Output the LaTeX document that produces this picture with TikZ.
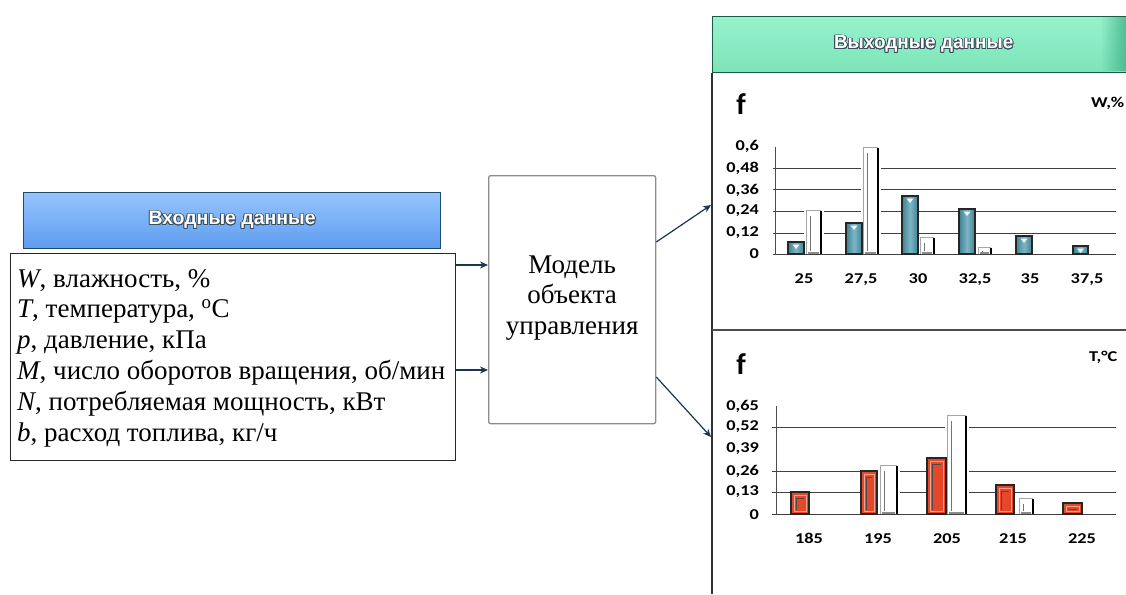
\documentclass[tikz,border=0pt]{standalone}
\usepackage{fontspec}
\setmainfont{Liberation Serif}
\newfontfamily\hdrfont{Liberation Sans}
\newfontfamily\chartfont{Carlito}
\usepackage{contour}
\contourlength{0.8pt}
\usetikzlibrary{arrows.meta}

\definecolor{inTop}{HTML}{95C4FF}
\definecolor{inBot}{HTML}{5E9CEE}
\definecolor{inEdge}{HTML}{1E4A66}
\definecolor{outTop}{HTML}{96F2CC}
\definecolor{outBot}{HTML}{7DE4B8}
\definecolor{outDark}{HTML}{45B489}
\definecolor{outEdge}{HTML}{1C5A48}
\definecolor{glow}{HTML}{3A4E5E}
\definecolor{arrowblue}{HTML}{1B3550}
\definecolor{tealA}{HTML}{3F8292}
\definecolor{tealB}{HTML}{7DB6C4}
\definecolor{redA}{HTML}{E4472A}
\definecolor{redIn}{HTML}{F7A48F}

% stretched bold chart lettering
\newcommand{\lbl}[1]{\scalebox{1.22}[1]{#1}}

\tikzset{
  inhdr/.style={draw=inEdge, line width=1.2pt, top color=inTop, bottom color=inBot,
    font=\hdrfont\bfseries\fontsize{19.5}{22}\selectfont, text=white},
  outhdr/.style={draw=outEdge, line width=1.4pt, top color=outTop, bottom color=outBot,
    font=\hdrfont\bfseries\fontsize{19}{22}\selectfont, text=white},
  listbox/.style={draw=black!85, line width=1.2pt, fill=white},
  serifbig/.style={font=\fontsize{27}{30.8}\selectfont, inner sep=0pt},
  modelbox/.style={draw=black!45, line width=1.3pt, rounded corners=2pt, fill=white},
  arr/.style={draw=arrowblue, line width=1.2pt, -{Stealth[length=8pt,width=7pt]}},
  panelline/.style={draw=black!80, line width=1.6pt},
  grid/.style={draw=black!75, line width=1pt},
  axisline/.style={draw=black!70, line width=1pt},
  lab/.style={font=\chartfont\bfseries\fontsize{15}{15}\selectfont, inner sep=0pt},
  tealbox/.style={draw=black!85, line width=1.3pt, left color=tealA, right color=tealA, middle color=tealB},
  redbox/.style={draw=black!85, line width=1.2pt, fill=redA},
  whitebox/.style={fill=white, draw=none}
}

% chart bars: left x, right x, base y, top y
\newcommand{\tealbar}[4]{%
  \draw[tealbox] (#1,#3) rectangle (#2,#4);
  \fill[white!90!tealB] ({(#1+#2)/2-3.5},{#4+2.5}) -- ++(7,0) -- ++(-3.5,4.5) -- cycle;}
\newcommand{\redbar}[4]{%
  \draw[redbox] (#1,#3) rectangle (#2,#4);
  \draw[redIn, line width=0.9pt] ({#1+3},{#3-3}) rectangle ({#2-3},{#4+3});
  \draw[black!70, line width=0.8pt] ({#1+5.5},{#3-4}) -- ({#1+5.5},{#4+6}) -- ({#2-5},{#4+6});}
\newcommand{\whitebar}[4]{%
  \fill[whitebox] ({#1-2.5},{#3-0.6}) rectangle ({#2+2.5},{#4-1});
  \draw[black!35, line width=0.8pt] (#1,#3) -- (#1,#4) -- (#2,#4);
  \draw[black!55, line width=0.8pt] ({#1+4},{#3-3}) -- ({#1+4},{#4+6});
  \draw[black, line width=1.7pt] (#2,#3) -- (#2,{#4+1});
  \fill[black!45] ({#1+2},#3) rectangle ({#2-2},{#3-2});}

\begin{document}
\begin{tikzpicture}[x=1pt,y=-1pt]
\useasboundingbox (0,0) rectangle (1126,594);
\clip (0,0) rectangle (1126,594);
\fill[white] (0,0) rectangle (1126,594);

% ---- input side
\node[inhdr, minimum width=417pt, minimum height=56pt, anchor=north west] (inhead) at (23,192)
  {\contour{glow}{Входные данные}};
\node[listbox, minimum width=445pt, minimum height=207pt, anchor=north west] (inbox) at (10,253) {};
\node[serifbig, align=left, anchor=north west] (inlist) at (17,269)
  {\textit{W}, влажность, \%\\
   \textit{T}, температура, \textsuperscript{о}С\\
   \textit{p}, давление, кПа\\
   \textit{M}, число оборотов вращения, об/мин\\
   \textit{N}, потребляемая мощность, кВт\\
   \textit{b}, расход топлива, кг/ч};

% ---- model block
\node[modelbox, minimum width=167pt, minimum height=248pt, anchor=north west] (model) at (488,175) {};
\node[serifbig, align=center] (modeltext) at (model.center |- 0,298) {Модель\\объекта\\управления};

\draw[arr] (inbox.east |- 0,265) -- (model.west |- 0,265);
\draw[arr] (inbox.east |- 0,370) -- (model.west |- 0,370);

% ---- output panel
\node[outhdr, minimum width=422pt, minimum height=56pt, anchor=north west] (outhead) at (712,16)
  {\contour{glow}{Выходные данные}};
% darker bevel at the right end of the banner
\foreach \k in {0,...,17}
  \fill[outDark, opacity={0.05*\k}] ({1100+1.5*\k},17) rectangle ({1101.5+1.5*\k},71);

\coordinate (paneltop) at (712,73);
\coordinate (panelbot) at (712,594);
\coordinate (sepL) at (712,330);
\coordinate (sepR) at (1126,330);
\draw[panelline] (paneltop) -- (panelbot);
\draw[panelline, draw=black!70] (sepL) -- (sepR);

\coordinate (inW) at (711,205);
\coordinate (inT) at (711,437);
\draw[arr] (model.east |- 0,242) -- (inW);
\draw[arr] (model.east |- 0,377) -- (inT);

% ---- humidity histogram
\node[font=\chartfont\bfseries\fontsize{30}{30}\selectfont, inner sep=0pt] (fW) at (741,104) {f};
\node[lab, anchor=west] (uW) at (1091,103) {\lbl{W,\%}};
\foreach \yy in {168,189,211,233,254} \draw[grid] (773,\yy) -- (1116,\yy);
\draw[axisline] (775,147) -- (775,255);
\foreach \txt/\yy [count=\i] in {0{,}6/146,0{,}48/168,0{,}36/190,0{,}24/211,0{,}12/233,0/254}
  \node[lab, anchor=east] (wy\i) at (759,\yy) {\lbl{\txt}};
\foreach \txt/\xx [count=\i] in {25/804,27{,}5/861,30/918,32{,}5/975,35/1030,37{,}5/1087}
  \node[lab, anchor=base] (wx\i) at (\xx,283) {\lbl{\txt}};
\whitebar{806}{821}{254}{210}
\whitebar{863}{878}{254}{147}
\whitebar{920}{934}{254}{237}
\whitebar{978}{991}{254}{247}
\tealbar{788}{804}{254}{242}
\tealbar{846}{862}{254}{223}
\tealbar{902}{918}{254}{196}
\tealbar{959}{975}{254}{209}
\tealbar{1016}{1032}{254}{236}
\tealbar{1073}{1088}{254}{246}

% ---- temperature histogram
\node[font=\chartfont\bfseries\fontsize{30}{30}\selectfont, inner sep=0pt] (fT) at (741,364) {f};
\node[lab, anchor=west] (uT) at (1089,357) {\lbl{T,°C}};
\foreach \yy in {427,471,492,514} \draw[grid] (772,\yy) -- (1116,\yy);
\draw[axisline] (776,406) -- (776,515);
\foreach \txt/\yy [count=\i] in {0{,}65/406,0{,}52/427,0{,}39/449,0{,}26/471,0{,}13/492,0/515}
  \node[lab, anchor=east] (ty\i) at (759,\yy) {\lbl{\txt}};
\foreach \txt/\xx [count=\i] in {185/809,195/878,205/947,215/1013,225/1082}
  \node[lab, anchor=base] (tx\i) at (\xx,543) {\lbl{\txt}};
\whitebar{880}{897}{514}{465}
\whitebar{947}{966}{514}{415}
\whitebar{1019}{1033}{514}{498}
\redbar{791}{809}{514}{492}
\redbar{861}{877}{514}{471}
\redbar{927}{946}{514}{458}
\redbar{996}{1014}{514}{485}
\redbar{1063}{1082}{514}{503}
\end{tikzpicture}
\end{document}
